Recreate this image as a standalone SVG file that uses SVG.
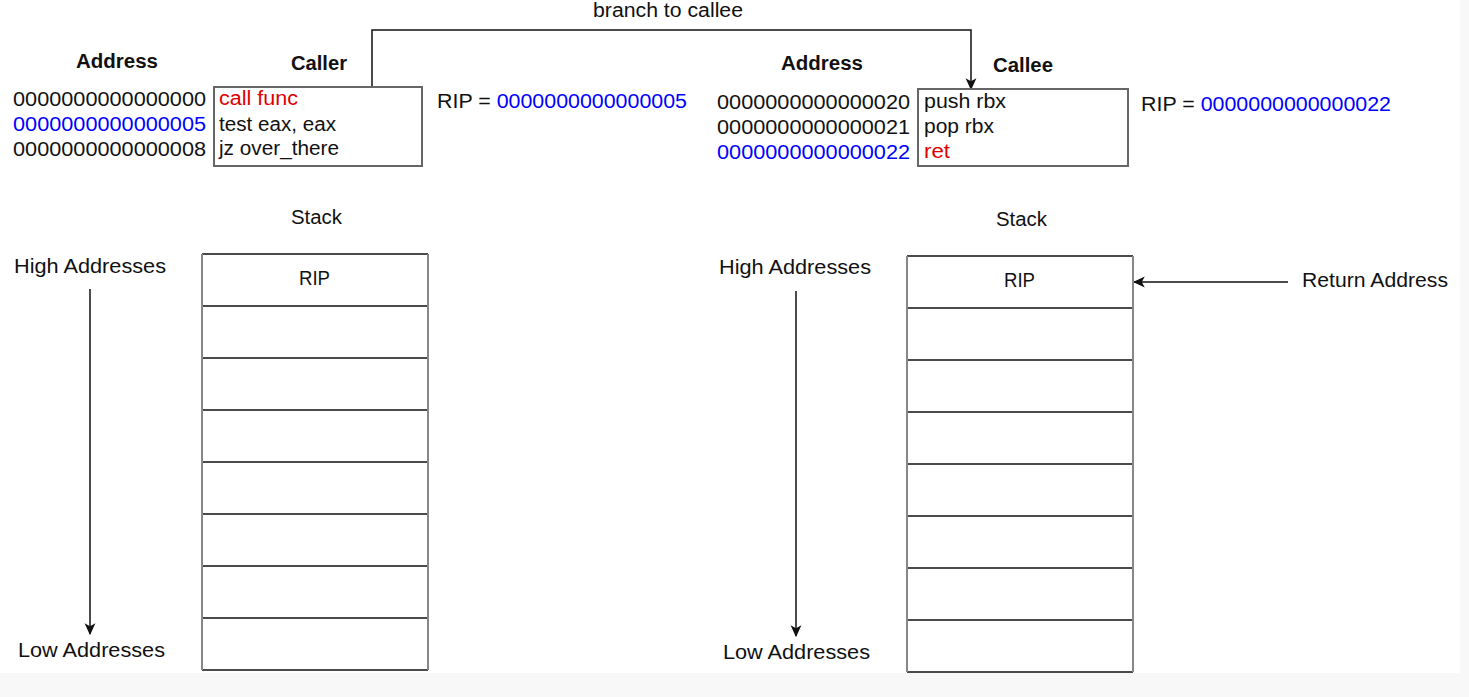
<svg xmlns="http://www.w3.org/2000/svg" width="1469" height="697" viewBox="0 0 1469 697">
<style>
text{font-family:"Liberation Sans",Arial,sans-serif;font-size:20px;fill:#111;}
.b{font-weight:bold;}
.blue{fill:#0000ff;}
.red{fill:#e00000;}
.code{fill:#fff;stroke:#666;stroke-width:2;}
.hl{stroke:#111;stroke-width:1.5;fill:none;}
.vl{stroke:#888;stroke-width:2;fill:none;}
.conn{stroke:#111;stroke-width:1.5;fill:none;}
</style>
<defs>
<marker id="arr" viewBox="0 0 10 10" refX="9" refY="5" markerWidth="12" markerHeight="12" markerUnits="userSpaceOnUse" orient="auto">
<path d="M0,0.5 L10,5 L0,9.5 L2.5,5 Z" fill="#111"/>
</marker>
</defs>
<rect x="0" y="0" width="1469" height="697" fill="#f8f8f8"/>
<rect x="0" y="0" width="1460" height="673" fill="#ffffff"/>

<g id="connectors">
<path class="conn" d="M372,87 V30 H971 V89" marker-end="url(#arr)"/>
<path class="conn" d="M90,289 V634" marker-end="url(#arr)"/>
<path class="conn" d="M796,291 V636" marker-end="url(#arr)"/>
<path class="conn" d="M1288,282 H1134" marker-end="url(#arr)"/>
</g>

<g id="branch-label"><text x="593" y="17" textLength="150" lengthAdjust="spacingAndGlyphs">branch to callee</text></g>

<g id="caller-side">
<text class="b" x="76" y="68" textLength="82" lengthAdjust="spacingAndGlyphs">Address</text>
<text class="b" x="291" y="70" textLength="56" lengthAdjust="spacingAndGlyphs">Caller</text>
<text x="13" y="106" textLength="193" lengthAdjust="spacingAndGlyphs">0000000000000000</text>
<text class="blue" x="13" y="131" textLength="193" lengthAdjust="spacingAndGlyphs">0000000000000005</text>
<text x="13" y="156" textLength="193" lengthAdjust="spacingAndGlyphs">0000000000000008</text>
</g>
<g id="caller-box">
<rect class="code" x="214" y="87" width="208" height="79"/>
<text class="red" x="219" y="105" textLength="79" lengthAdjust="spacingAndGlyphs">call func</text>
<text x="219" y="131" textLength="117" lengthAdjust="spacingAndGlyphs">test eax, eax</text>
<text x="219" y="155" textLength="120" lengthAdjust="spacingAndGlyphs">jz over_there</text>
</g>
<g id="rip-caller">
<text x="437" y="108" textLength="250" lengthAdjust="spacingAndGlyphs">RIP = <tspan class="blue">0000000000000005</tspan></text>
</g>

<g id="callee-side">
<text class="b" x="781" y="70" textLength="82" lengthAdjust="spacingAndGlyphs">Address</text>
<text class="b" x="993" y="72" textLength="60" lengthAdjust="spacingAndGlyphs">Callee</text>
<text x="717" y="109" textLength="193" lengthAdjust="spacingAndGlyphs">0000000000000020</text>
<text x="717" y="134" textLength="193" lengthAdjust="spacingAndGlyphs">0000000000000021</text>
<text class="blue" x="717" y="159" textLength="193" lengthAdjust="spacingAndGlyphs">0000000000000022</text>
</g>
<g id="callee-box">
<rect class="code" x="918" y="89" width="210" height="77"/>
<text x="924" y="108" textLength="82" lengthAdjust="spacingAndGlyphs">push rbx</text>
<text x="924" y="133" textLength="70" lengthAdjust="spacingAndGlyphs">pop rbx</text>
<text class="red" x="924" y="158" textLength="26" lengthAdjust="spacingAndGlyphs">ret</text>
</g>
<g id="rip-callee">
<text x="1141" y="111" textLength="250" lengthAdjust="spacingAndGlyphs">RIP = <tspan class="blue">0000000000000022</tspan></text>
</g>

<g id="left-stack">
<text x="291" y="224" textLength="51" lengthAdjust="spacingAndGlyphs">Stack</text>
<rect x="202" y="254" width="226" height="416" fill="#fff"/>
<path class="hl" d="M202,254 H428 M202,306 H428 M202,358 H428 M202,410 H428 M202,462 H428 M202,514 H428 M202,566 H428 M202,618 H428 M202,670 H428"/>
<path class="vl" d="M202,254 V670 M428,254 V670"/>
<text x="299" y="285" textLength="31" lengthAdjust="spacingAndGlyphs">RIP</text>
</g>
<g id="left-addresses">
<text x="14" y="273" textLength="152" lengthAdjust="spacingAndGlyphs">High Addresses</text>
<text x="18" y="657" textLength="147" lengthAdjust="spacingAndGlyphs">Low Addresses</text>
</g>

<g id="right-stack">
<text x="996" y="226" textLength="51" lengthAdjust="spacingAndGlyphs">Stack</text>
<rect x="907" y="256" width="226" height="416" fill="#fff"/>
<path class="hl" d="M907,256 H1133 M907,308 H1133 M907,360 H1133 M907,412 H1133 M907,464 H1133 M907,516 H1133 M907,568 H1133 M907,620 H1133 M907,672 H1133"/>
<path class="vl" d="M907,256 V672 M1133,256 V672"/>
<text x="1004" y="287" textLength="31" lengthAdjust="spacingAndGlyphs">RIP</text>
</g>
<g id="right-addresses">
<text x="719" y="274" textLength="152" lengthAdjust="spacingAndGlyphs">High Addresses</text>
<text x="723" y="659" textLength="147" lengthAdjust="spacingAndGlyphs">Low Addresses</text>
</g>
<g id="return-address">
<text x="1302" y="287" textLength="146" lengthAdjust="spacingAndGlyphs">Return Address</text>
</g>
</svg>
